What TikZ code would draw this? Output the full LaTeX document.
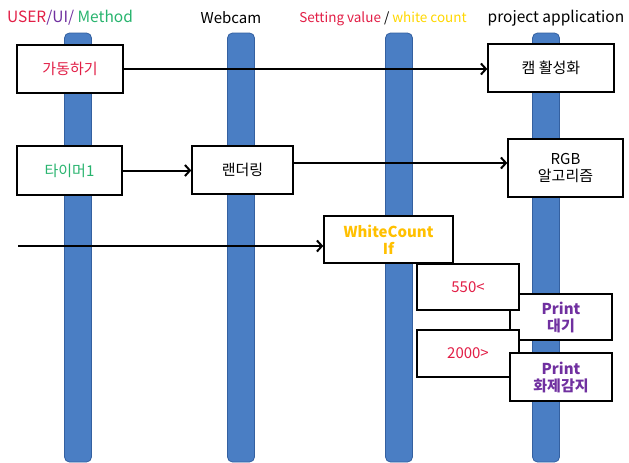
\documentclass[tikz,border=0pt]{standalone}
\usepackage{fontspec}
\setmainfont{Noto Sans CJK KR}
\usepackage{tikz}
\usetikzlibrary{arrows,arrows.meta,positioning}
\definecolor{barblue}{RGB}{74,126,196}
\definecolor{bardark}{RGB}{52,96,160}
\definecolor{userred}{RGB}{226,30,70}
\definecolor{uipurple}{RGB}{112,48,160}
\definecolor{methgreen}{RGB}{40,180,110}
\definecolor{wcyellow}{RGB}{255,192,0}
\definecolor{setyellow}{RGB}{255,215,0}

\begin{document}
\begin{tikzpicture}[x=1pt,y=-1pt,->,>={Straight Barb[length=5pt,width=11pt]},line width=2pt,
    lifeline/.style={-,draw=bardark,fill=barblue,line width=0.8pt,rounded corners=5pt,minimum width=27pt,inner sep=0pt},
    box/.style={-,draw=black,fill=white,line width=1.4pt,inner sep=0pt,align=center,font=\fontsize{15}{17}\selectfont},
    head/.style={inner sep=0pt,font=\fontsize{15}{17}\selectfont}]
    \useasboundingbox (0,0) rectangle (629,463);
    % lifelines
    \node[lifeline,minimum height=429pt] (L1) at (78,247.5) {};
    \node[lifeline,minimum height=429pt] (L2) at (241,247.5) {};
    \node[lifeline,minimum height=429pt] (L3) at (399,247.5) {};
    \node[lifeline,minimum height=429pt] (L4) at (546,247.5) {};
    % headings
    \node[head,font=\fontsize{15.5}{17}\selectfont] (H1) at (70,18) {\textcolor{userred}{USER}\textcolor{uipurple}{/UI/} \textcolor{methgreen}{Method}};
    \node[head] (H2) at (231,18) {Webcam};
    \node[head,font=\fontsize{13.5}{15}\selectfont] (H3) at (383,19) {\textcolor{userred}{Setting value} / \textcolor{setyellow}{white count}};
    \node[head,font=\fontsize{15.5}{17}\selectfont] (H4) at (556,18) {project application};
    % messages
    \node[box,minimum width=106pt,minimum height=48pt] (A) at (70,69) {\textcolor{userred}{가동하기}};
    \node[box,minimum width=126pt,minimum height=48pt] (B) at (551,68) {캠 활성화};
    \node[box,minimum width=105pt,minimum height=49pt] (C) at (69.5,170.5) {\textcolor{methgreen}{타이머1}};
    \node[box,minimum width=101pt,minimum height=48pt] (D) at (242.5,170) {랜더링};
    \node[box,minimum width=115pt,minimum height=58pt] (E) at (565.5,168) {RGB\\알고리즘};
    \node[box,minimum width=129pt,minimum height=47pt] (F) at (388.5,239.5) {\textcolor{wcyellow}{\bfseries WhiteCount}\\\textcolor{wcyellow}{\bfseries If}};
    \node[box,minimum width=102pt,minimum height=46pt] (G) at (561,317) {\textcolor{uipurple}{\bfseries Print}\\\textcolor{uipurple}{\bfseries 대기}};
    \node[box,minimum width=102pt,minimum height=46pt] (H) at (468,287) {\textcolor{userred}{550<}};
    \node[box,minimum width=102pt,minimum height=47pt] (I) at (468,353.5) {\textcolor{userred}{2000>}};
    \node[box,minimum width=102pt,minimum height=48pt] (J) at (561,377) {\textcolor{uipurple}{\bfseries Print}\\\textcolor{uipurple}{\bfseries 화제감지}};
    \coordinate (K) at (18,246);
    \coordinate (D1) at ([yshift=7pt]D.east);
    % paths between boxes
    \draw (A.east) -- (B.west |- A.east);
    \draw (C.east) -- (D.west |- C.east);
    \draw (D1) -- (E.west |- D1);
    \draw (K) -- (F.west |- K);
\end{tikzpicture}
\end{document}
